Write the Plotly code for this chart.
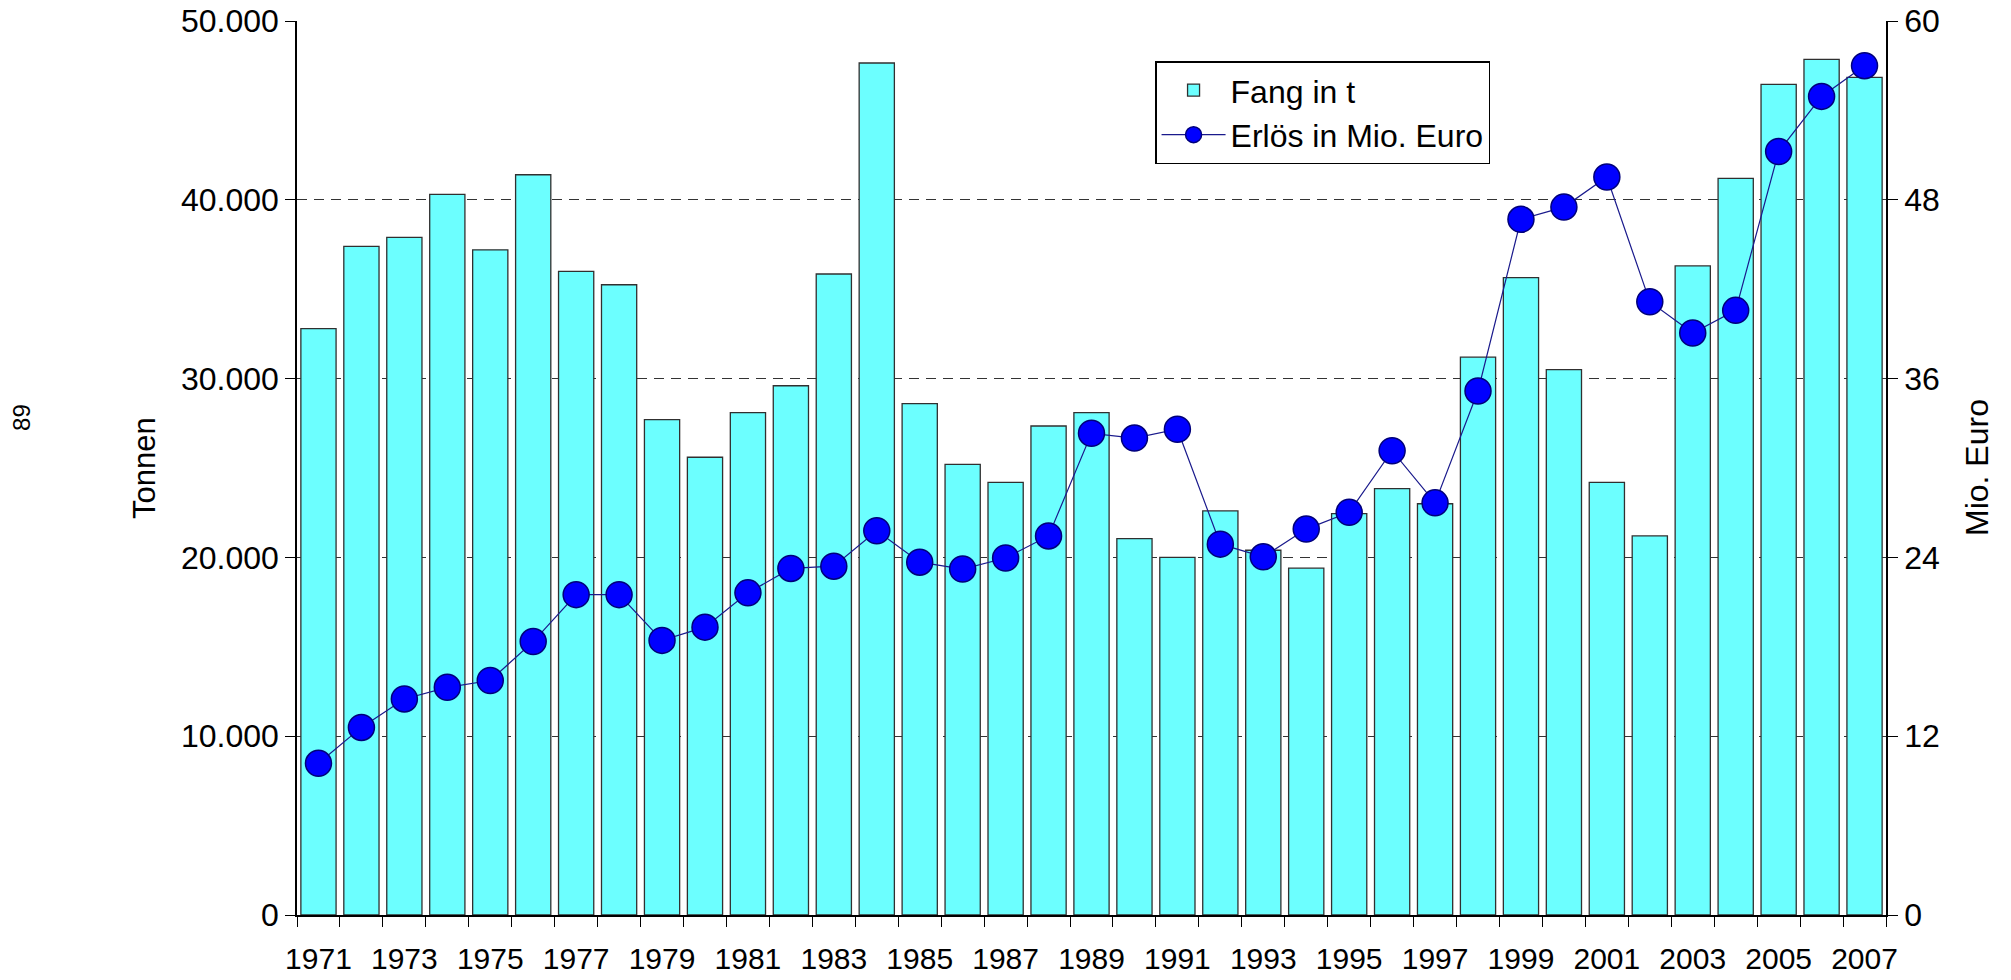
import plotly.graph_objects as go

# ---- data ----
years = list(range(1971, 2008))
catch_t = [32800, 37400, 37900, 40300, 37200, 41400, 36000, 35250, 27700, 25600,
           28100, 29600, 35850, 47650, 28600, 25200, 24200, 27350, 28100, 21050,
           20000, 22600, 20400, 19400, 22450, 23850, 23000, 31200, 35650, 30500,
           24200, 21200, 36300, 41200, 46450, 47850, 46850]
revenue_meur = [10.18, 12.59, 14.50, 15.28, 15.74, 18.35, 21.50, 21.50, 18.43, 19.32,
                21.62, 23.26, 23.41, 25.79, 23.68, 23.22, 23.96, 25.44, 32.33, 32.01,
                32.60, 24.89, 24.04, 25.90, 27.03, 31.16, 27.66, 35.17, 46.69, 47.51,
                49.53, 41.16, 39.06, 40.58, 51.24, 54.94, 57.00]
x_label_years = list(range(1971, 2008, 2))
x_labels = [str(y) for y in x_label_years]
left_ticks = [0, 10000, 20000, 30000, 40000, 50000]
left_labels = ["0", "10.000", "20.000", "30.000", "40.000", "50.000"]
right_ticks = [0, 12, 24, 36, 48, 60]
right_labels = ["0", "12", "24", "36", "48", "60"]

FONT = "Liberation Sans, Arial, Helvetica, sans-serif"

fig = go.Figure()
fig.add_trace(go.Bar(
    x=years, y=catch_t, name="Fang in t", yaxis="y", width=0.82,
    marker=dict(color="#6CFFFF", line=dict(color="#303030", width=1.3)),
    legendgroup="a",
))
fig.add_trace(go.Scatter(
    x=years, y=revenue_meur, name="Erlös in Mio. Euro", yaxis="y2",
    mode="lines+markers",
    line=dict(color="#1A1A8C", width=1.2),
    marker=dict(size=26, color="#0000FF", line=dict(color="#00007A", width=1.5)),
    legendgroup="b", cliponaxis=False,
))

fig.update_layout(
    width=2011, height=980,
    margin=dict(l=297, r=125, t=21, b=65, pad=0, autoexpand=False),
    paper_bgcolor="white", plot_bgcolor="white",
    font=dict(family=FONT, size=31, color="black"),
    showlegend=True,
    bargap=0.18,
    xaxis=dict(
        range=[1970.5, 2007.5], tickmode="array", tickvals=x_label_years, ticktext=x_labels,
        ticks="outside", ticklen=16, tickcolor="rgba(0,0,0,0)",
        showline=True, linecolor="black", linewidth=1.5,
        showgrid=False, zeroline=False, automargin=False,
        tickfont=dict(size=30),
        minor=dict(tickmode="linear", tick0=0.5, dtick=1, ticks="outside",
                   ticklen=10, tickcolor="black", tickwidth=1, showgrid=False),
    ),
    xaxis2=dict(
        range=[1970.5, 2007.5], overlaying="x", side="top", anchor="y",
        showline=True, linecolor="#555555", linewidth=1, automargin=False,
        ticks="", showticklabels=False, showgrid=False, zeroline=False,
    ),
    yaxis=dict(
        range=[0, 50000], tickmode="array", tickvals=left_ticks, ticktext=left_labels,
        ticks="outside", ticklen=10, tickcolor="black", tickwidth=1,
        showline=True, linecolor="black", linewidth=1.5, automargin=False,
        showgrid=True, gridcolor="#333333", gridwidth=1, griddash="10px,7px",
        zeroline=False, tickfont=dict(size=32),
    ),
    yaxis2=dict(
        range=[0, 60], overlaying="y", side="right", anchor="x",
        tickmode="array", tickvals=right_ticks, ticktext=right_labels,
        ticks="outside", ticklen=10, tickcolor="black", tickwidth=1,
        showline=True, linecolor="black", linewidth=1.5, automargin=False,
        showgrid=False, zeroline=False, tickfont=dict(size=32),
    ),
    yaxis3=dict(
        range=[0, 60], overlaying="y", side="right", anchor="x",
        tickmode="array", tickvals=right_ticks, automargin=False,
        ticks="inside", ticklen=10, tickcolor="black", tickwidth=1,
        showticklabels=False, showline=False, showgrid=False, zeroline=False,
    ),
    legend=dict(
        x=0.54, y=0.955, xanchor="left", yanchor="top",
        bgcolor="white", bordercolor="black", borderwidth=1.5,
        font=dict(size=32), traceorder="grouped", tracegroupgap=0,
        itemwidth=64,
    ),
    annotations=[
        dict(text="Tonnen", xref="paper", yref="paper", x=0, y=0.5, xshift=-153,
             textangle=-90, showarrow=False, font=dict(size=31),
             xanchor="center", yanchor="middle"),
        dict(text="Mio. Euro", xref="paper", yref="paper", x=1, y=0.5, xshift=91,
             textangle=-90, showarrow=False, font=dict(size=32),
             xanchor="center", yanchor="middle"),
        dict(text="89", xref="paper", yref="paper", x=0, y=0.556, xshift=-275,
             textangle=-90, showarrow=False, font=dict(size=24),
             xanchor="center", yanchor="middle"),
    ],
)

fig.write_html("out.html", config={"displayModeBar": False},
               post_script="document.body.style.margin='0';")
